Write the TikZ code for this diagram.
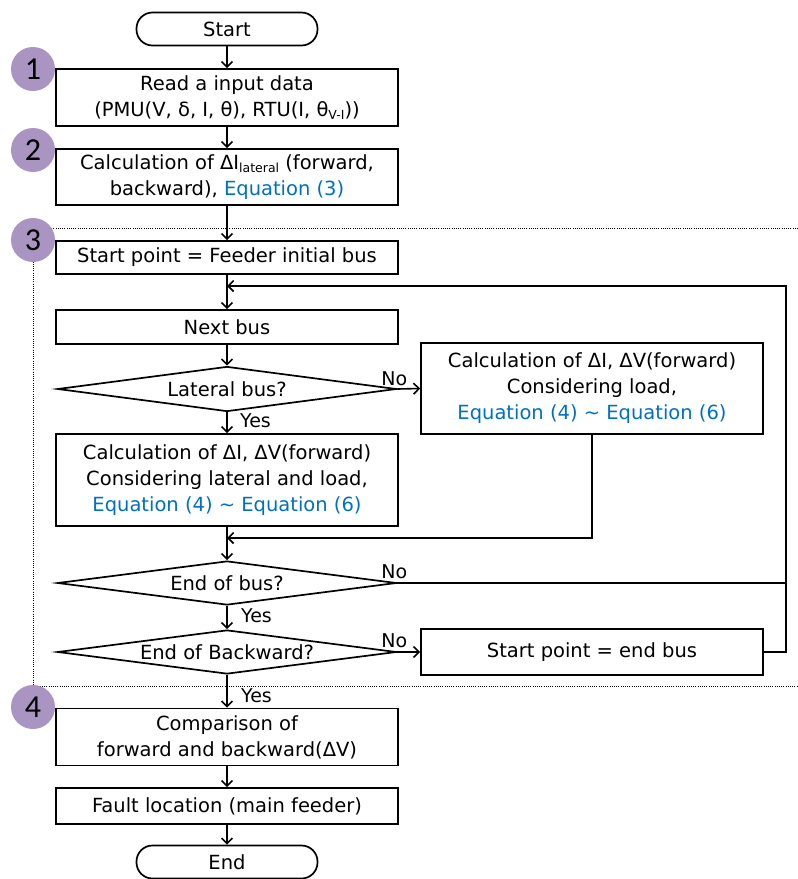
\documentclass[tikz,border=0pt]{standalone}
\usepackage{fontspec}
\setmainfont{DejaVu Sans}
\newfontfamily\digitfont{Carlito}
\usetikzlibrary{arrows.meta,shapes.geometric}
\definecolor{eqblue}{HTML}{0070C0}
\definecolor{lilac}{HTML}{A994C2}
\newcommand{\sbs}[1]{\raisebox{-3.5pt}{\fontsize{12.5}{12}\selectfont #1}}
\begin{document}
\begin{tikzpicture}[x=1pt,y=-1pt,
  box/.style={draw, line width=1.7pt, minimum width=342pt, inner sep=0pt, align=center, font=\fontsize{19.5}{26}\selectfont},
  terminal/.style={draw, line width=1.7pt, rounded corners=16pt, minimum width=181pt, minimum height=33pt, inner sep=0pt, font=\fontsize{19.5}{26}\selectfont},
  dia/.style={diamond, draw, line width=1.7pt, minimum width=339pt, minimum height=45pt, inner sep=0pt},
  dtxt/.style={font=\fontsize{19.5}{26}\selectfont},
  arr/.style={-{Straight Barb[length=5.5pt,width=11pt]}, line width=1.6pt},
  conn/.style={line width=1.6pt},
  lbl/.style={font=\fontsize{19}{19}\selectfont, inner sep=0pt},
  circ/.style={circle, fill=lilac, minimum size=44pt, inner sep=0pt, font=\digitfont\fontsize{32}{32}\selectfont},
  dotl/.style={line width=0.9pt, dash pattern=on 1pt off 1.2pt}]
\useasboundingbox (0,0) rectangle (798,879);

% dotted region of step 3
\coordinate (dtl) at (33,228);
\coordinate (dtr) at (798,228);
\coordinate (dbl) at (33,686);
\coordinate (dbr) at (798,686);
\draw[dotl] (dtr) -- (dtl) -- (dbl) -- (dbr);

% step circles
\node[circ] (c1) at (33,69) {1};
\node[circ] (c2) at (33,150) {2};
\node[circ] (c3) at (33,240) {3};
\node[circ] (c4) at (33,707) {4};

% nodes
\node[terminal] (start) at (227,29) {Start};
\node[box, minimum height=57pt] (b1) at (227,97.5) {Read a input data\\(PMU(V, δ, I, θ), RTU(I, θ\sbs{V-I}))};
\node[box, minimum height=56pt] (b2) at (227,177) {Calculation of ΔI\sbs{lateral} (forward,\\backward), \textcolor{eqblue}{Equation (3)}};
\node[box, minimum height=33pt] (b3) at (227,257.5) {Start point = Feeder initial bus};
\node[box, minimum height=34pt] (nb) at (227,327) {Next bus};
\node[dia, label={[dtxt]center:Lateral bus?}] (d1) at (227,389) {};
\node[box, minimum height=91pt] (r1) at (592,388.5) {Calculation of ΔI, ΔV(forward)\\Considering load,\\\textcolor{eqblue}{Equation (4) \textasciitilde{} Equation (6)}};
\node[box, minimum height=92pt] (lat) at (227,480) {Calculation of ΔI, ΔV(forward)\\Considering lateral and load,\\\textcolor{eqblue}{Equation (4) \textasciitilde{} Equation (6)}};
\node[dia, minimum height=44pt, label={[dtxt]center:End of bus?}] (d2) at (227,583) {};
\node[dia, minimum height=44pt, label={[dtxt]center:End of Backward?}] (d3) at (227,652) {};
\node[box, minimum height=46pt] (rend) at (592,652) {Start point = end bus};
\node[box, minimum height=57pt] (b4) at (227,737) {Comparison of\\forward and backward(ΔV)};
\node[box, minimum height=36pt] (b5) at (227,806) {Fault location (main feeder)};
\node[terminal] (end) at (227,862) {End};

\coordinate (lp) at (786,286);
\coordinate (jn) at (227,286);
\coordinate (mg) at (227,538);

% connectors
\draw[arr] (start) -- (b1);
\draw[arr] (b1) -- (b2);
\draw[arr] (b2) -- (b3);
\draw[arr] (b3) -- (nb);
\draw[arr] (nb) -- (d1.north);
\draw[arr] (d1.east) -- (r1.west);
\draw[arr] (d1.south) -- (lat.north);
\draw[arr] (r1.south) |- (mg);
\draw[arr] (lat.south) -- (d2.north);
\draw[conn] (d2.east) -- (d2.east -| lp);
\draw[arr] (d2.south) -- (d3.north);
\draw[arr] (d3.east) -- (rend.west);
\draw[arr] (rend.east) -| (lp) -- (jn);
\draw[arr] (d3.south) -- (b4.north);
\draw[arr] (b4) -- (b5);
\draw[arr] (b5) -- (end);

% branch labels
\node[lbl, anchor=south] (n1) at ([xshift=-3pt,yshift=3pt]d1.east) {No};
\node[lbl, anchor=south] (n2) at ([xshift=-3pt,yshift=4pt]d2.east) {No};
\node[lbl, anchor=south] (n3) at ([xshift=-3pt,yshift=4pt]d3.east) {No};
\node[lbl, anchor=north west] (y1) at ([xshift=13pt,yshift=-1pt]d1.south) {Yes};
\node[lbl, anchor=north west] (y2) at ([xshift=14pt,yshift=-3pt]d2.south) {Yes};
\node[lbl, anchor=north west] (y3) at ([xshift=14pt,yshift=-14pt]d3.south) {Yes};
\end{tikzpicture}
\end{document}
